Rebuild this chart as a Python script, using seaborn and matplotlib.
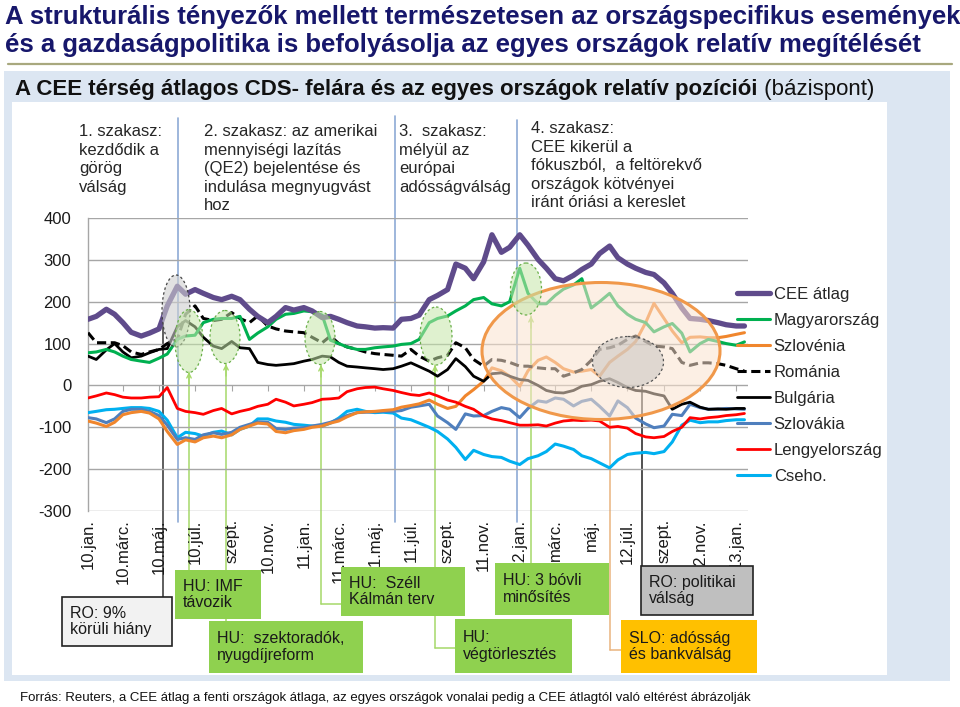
import numpy as np
import pandas as pd
import matplotlib
matplotlib.use("Agg")
import matplotlib.pyplot as plt
import matplotlib.dates as mdates
from matplotlib.patches import Ellipse, Rectangle
import seaborn as sns

sns.set_style("white")
plt.rcParams["font.family"] = ["Liberation Sans", "DejaVu Sans"]

# ---- data (bp), semi-monthly readings from Jan 2010 to mid-Jan 2013 ----
cee_atlag = [158, 165, 182, 170, 150, 127, 118, 125, 135, 190,
             237, 218, 229, 220, 210, 205, 213, 205, 182, 165,
             150, 165, 186, 180, 186, 178, 162, 165, 158, 150,
             142, 140, 137, 138, 137, 158, 160, 168, 205, 215,
             229, 290, 280, 255, 295, 360, 318, 330, 360, 335,
             301, 280, 255, 250, 263, 277, 290, 315, 333, 305,
             290, 280, 270, 265, 245, 220, 185, 160, 158, 155,
             150, 145, 142, 142]
magyarorszag = [78, 80, 86, 80, 70, 62, 58, 55, 65, 75,
                110, 118, 120, 150, 158, 160, 160, 165, 110, 125,
                140, 158, 170, 172, 178, 176, 168, 108, 100, 92,
                86, 86, 90, 92, 94, 98, 100, 110, 150, 160,
                166, 178, 190, 205, 210, 195, 190, 200, 280, 220,
                195, 195, 215, 230, 240, 255, 185, 200, 220, 190,
                170, 158, 150, 128, 140, 148, 125, 80, 100, 110,
                105, 100, 96, 104]
szlovenia = [-85, -90, -98, -88, -70, -65, -62, -66, -80, -110,
             -141, -130, -135, -125, -121, -125, -118, -105, -97, -90,
             -92, -110, -113, -108, -105, -100, -97, -90, -85, -75,
             -65, -63, -62, -60, -58, -52, -48, -44, -35, -45,
             -55, -50, -25, -10, 10, 42, 35, 22, -2, 35,
             60, 68, 55, 40, 32, 34, 38, 22, 55, 70,
             86, 105, 150, 196, 160, 130, 102, 115, 116, 114,
             114, 117, 122, 126]
romania = [126, 102, 102, 102, 95, 80, 74, 80, 86, 100,
           110, 170, 190, 160, 155, 158, 174, 160, 150, 166,
           142, 135, 130, 128, 126, 115, 102, 118, 100, 92,
           86, 80, 76, 74, 72, 70, 86, 70, 58, 66,
           72, 102, 90, 62, 46, 62, 60, 55, 46, 46,
           42, 40, 40, 22, 30, 38, 60, 86, 90, 96,
           110, 118, 105, 94, 92, 88, 55, 48, 54, 54,
           52, 48, 40, 34]
bulgaria = [70, 62, 85, 100, 80, 66, 70, 78, 86, 88,
            140, 155, 140, 115, 94, 88, 105, 90, 88, 55,
            50, 48, 50, 52, 58, 62, 70, 68, 55, 46,
            44, 42, 40, 38, 40, 46, 54, 45, 34, 22,
            38, 64, 45, 22, 10, 28, 30, 22, 14, 12,
            0, -12, -17, -18, -12, -2, 2, 10, 16, 7,
            -5, -12, -14, -20, -25, -57, -45, -40, -52, -57,
            -56, -57, -55, -55]
szlovakia = [-77, -80, -89, -80, -62, -57, -57, -62, -72, -95,
             -129, -125, -129, -118, -113, -117, -112, -100, -93, -87,
             -88, -103, -105, -102, -101, -97, -93, -88, -81, -72,
             -65, -64, -63, -62, -62, -60, -52, -49, -45, -73,
             -89, -105, -68, -73, -72, -62, -53, -57, -77, -55,
             -37, -40, -30, -33, -49, -38, -33, -50, -73, -37,
             -53, -78, -92, -101, -97, -69, -72, -45, -53, -57,
             -57, -55, -56, -57]
lengyelorszag = [-30, -25, -18, -22, -28, -30, -30, -28, -27, -5,
                 -55, -62, -65, -69, -60, -55, -68, -62, -57, -50,
                 -45, -33, -40, -49, -45, -41, -33, -32, -30, -15,
                 -8, -5, -4, -8, -12, -17, -22, -24, -18, -25,
                 -35, -40, -50, -57, -73, -80, -84, -89, -95, -95,
                 -94, -97, -90, -85, -83, -84, -83, -85, -100, -98,
                 -102, -115, -123, -125, -122, -110, -100, -77, -80, -77,
                 -75, -72, -70, -67]
cseho = [-65, -62, -58, -57, -55, -53, -53, -55, -62, -83,
         -125, -112, -115, -121, -112, -109, -118, -105, -97, -80,
         -80, -85, -88, -93, -95, -97, -97, -90, -78, -62,
         -57, -62, -65, -64, -66, -78, -82, -90, -100, -110,
         -128, -148, -177, -155, -165, -170, -172, -181, -189, -175,
         -168, -158, -140, -145, -153, -168, -175, -185, -197, -178,
         -165, -162, -160, -163, -158, -135, -95, -83, -89, -87,
         -87, -84, -82, -82]

series_names = ["CEE átlag", "Magyarország", "Szlovénia", "Románia",
                "Bulgária", "Szlovákia", "Lengyelország", "Cseho."]
series_values = [cee_atlag, magyarorszag, szlovenia, romania,
                 bulgaria, szlovakia, lengyelorszag, cseho]

tick_labels = ["10.jan.", "10.márc.", "10.máj.", "10.júl.", "szept.", "10.nov.",
               "11.jan.", "11.márc.", "11.máj.", "11.júl.", "szept.", "11.nov.",
               "12.jan.", "márc.", "máj.", "12.júl.", "szept.", "12.nov.",
               "13.jan."]
y_ticks = [-300, -200, -100, 0, 100, 200, 300, 400]

# ---- styles ----
styles = {
    "CEE átlag":     dict(color="#5f4b8b", lw=3.8, ls="-", z=9),
    "Magyarország":  dict(color="#00b050", lw=2.2, ls="-", z=8),
    "Szlovénia":     dict(color="#f0862d", lw=2.2, ls="-", z=5),
    "Románia":       dict(color="#000000", lw=2.2, ls=(0, (3, 1.5)), z=7),
    "Bulgária":      dict(color="#000000", lw=2.0, ls="-", z=6),
    "Szlovákia":     dict(color="#4f7fbd", lw=2.2, ls="-", z=4),
    "Lengyelország": dict(color="#ff0000", lw=2.0, ls="-", z=5),
    "Cseho.":        dict(color="#00b0f0", lw=2.2, ls="-", z=3),
}

W, H = 960, 707
fig = plt.figure(figsize=(9.6, 7.07), dpi=100)

# background decoration axes (pixel coordinates)
bg = fig.add_axes([0, 0, 1, 1], zorder=0)
bg.set_xlim(0, W); bg.set_ylim(H, 0); bg.axis("off")
bg.add_patch(Rectangle((4, 71), 946, 610, color="#dce6f2", lw=0))
bg.add_patch(Rectangle((12, 102), 875, 573, color="white", lw=0))
bg.plot([8, 952], [64, 64], color="#a8a87e", lw=1.6)

title_col = "#17176b"
bg.text(5, 17, "A strukturális tényezők mellett természetesen az országspecifikus események",
        fontsize=18.5, weight="bold", color=title_col, va="center", ha="left")
bg.text(5, 45, "és a gazdaságpolitika is befolyásolja az egyes országok relatív megítélését",
        fontsize=18.5, weight="bold", color=title_col, va="center", ha="left")
sub = bg.text(15, 90, "A CEE térség átlagos CDS- felára és az egyes országok relatív pozíciói",
              fontsize=16, weight="bold", color="#111111", va="center", ha="left")
bg.annotate(" (bázispont)", xy=(1, 0.5), xycoords=sub, va="center", ha="left",
            fontsize=16, color="#111111")
bg.text(20, 698, "Forrás: Reuters, a CEE átlag a fenti országok átlaga, az egyes országok vonalai "
        "pedig a CEE átlagtól való eltérést ábrázolják", fontsize=9.5, color="#111111",
        va="center", ha="left")

# phase separators
phase_col = "#8eaad6"
for x, y0 in [(178, 118), (395, 116), (517, 120)]:
    bg.plot([x, x], [y0, 522], color=phase_col, lw=1.2)

# event connectors
gcol = "#a6d96a"
for x, y0, y1, x2 in [(189, 372, 570, None), (226, 364, 621, None), (321, 365, 604, 341),
                      (435, 365, 648, 455), (531, 316, 563, None)]:
    bg.plot([x, x], [y0, y1], color=gcol, lw=1.1)
    if x2 is not None:
        bg.plot([x, x2], [y1, y1], color=gcol, lw=1.1)
    bg.annotate("", xy=(x, y0), xytext=(x, y0 + 12),
                arrowprops=dict(arrowstyle="->", color=gcol, lw=1.0,
                                shrinkA=0, shrinkB=0, mutation_scale=8))
bg.plot([163, 163], [320, 597], color="#333333", lw=1.1)
bg.plot([642, 642], [387, 566], color="#222222", lw=1.1)
tan = "#e9b47f"
bg.plot([610, 610], [420, 650], color=tan, lw=1.1)
bg.plot([610, 621], [650, 650], color=tan, lw=1.1)

# phase texts
ptxt = dict(fontsize=12, color="#262626", va="top", ha="left", linespacing=1.3)
bg.text(79, 124, "1. szakasz:\nkezdődik a\ngörög\nválság", **ptxt)
bg.text(204, 124, "2. szakasz: az amerikai\nmennyiségi lazítás\n(QE2) bejelentése és\n"
        "indulása megnyugvást\nhoz", **ptxt)
bg.text(399, 124, "3.  szakasz:\nmélyül az\neurópai\nadósságválság", **ptxt)
bg.text(531, 121, "4. szakasz:\nCEE kikerül a\nfókuszból,  a feltörekvő\n"
        "országok kötvényei\niránt óriási a kereslet", **ptxt)

# ---- chart axes ----
ax = fig.add_axes([88 / W, 1 - 511 / H, 660 / W, 293 / H], zorder=2)
ax.patch.set_alpha(0)

for name, vals in zip(series_names, series_values):
    st = styles[name]
    d = pd.DataFrame({"date": pd.date_range("2010-01-01", periods=len(vals), freq="SMS"),
                      "bp": vals})
    sns.lineplot(data=d, x="date", y="bp", ax=ax, color=st["color"], lw=st["lw"],
                 linestyle=st["ls"], label=name, zorder=st["z"])

ax.set_xlim(pd.Timestamp("2010-01-01"), pd.Timestamp("2013-01-21"))
ax.set_ylim(-300, 400)
ax.set_yticks(y_ticks)
ax.set_yticklabels([str(v) for v in y_ticks], fontsize=12, color="#1a1a1a")
tick_dates = pd.date_range("2010-01-01", periods=len(tick_labels), freq="2MS")
ax.set_xticks(tick_dates)
ax.set_xticklabels(tick_labels, rotation=90, fontsize=12, color="#1a1a1a",
                   va="top", ha="center")
ax.tick_params(axis="both", length=0)
ax.tick_params(axis="x", pad=6)
ax.tick_params(axis="y", pad=12)
ax.set_xlabel(""); ax.set_ylabel("")
ax.yaxis.grid(True, color="#a6a6a6", lw=1.0)
ax.set_axisbelow(True)
for s in ["top", "right", "bottom"]:
    ax.spines[s].set_visible(False)
ax.spines["left"].set_color("#a6a6a6")
ax.spines["left"].set_linewidth(1.0)

sec = ax.secondary_xaxis(3 / 7)
sec.set_xticks(mdates.date2num(tick_dates))
sec.tick_params(axis="x", length=4, color="#a6a6a6", labelbottom=False, direction="out")
sec.spines["bottom"].set_visible(False)

handles, labels = ax.get_legend_handles_labels()
order = [labels.index(n) for n in series_names]
leg = ax.legend([handles[i] for i in order], [labels[i] for i in order],
                loc="upper left", bbox_to_anchor=(737 / W, 1 - 287 / H),
                bbox_transform=fig.transFigure, frameon=False, fontsize=12,
                handlelength=2.0, handletextpad=0.2, labelspacing=0.66,
                borderpad=0, borderaxespad=0)
leg.set_zorder(20)

# ---- overlay (ellipses and boxes) ----
ov = fig.add_axes([0, 0, 1, 1], zorder=5)
ov.set_xlim(0, W); ov.set_ylim(H, 0); ov.axis("off")
ov.patch.set_alpha(0)

ov.add_patch(Ellipse((601, 351), 238, 137, facecolor="#fbe3cf", alpha=0.55, lw=0))
ov.add_patch(Ellipse((601, 351), 238, 137, facecolor="none", edgecolor="#f0984a", lw=2.2))
ov.add_patch(Ellipse((628, 362), 71, 51, facecolor="#c8c4c0", alpha=0.55, lw=0))
ov.add_patch(Ellipse((628, 362), 71, 51, facecolor="none", edgecolor="#555555",
                     lw=0.9, ls=(0, (2, 2))))
ov.add_patch(Ellipse((176, 311), 28, 72, facecolor="#d0d0d0", alpha=0.6, lw=0))
ov.add_patch(Ellipse((176, 311), 28, 72, facecolor="none", edgecolor="#444444",
                     lw=0.9, ls=(0, (2, 2))))
for cx, cy, w, h in [(189, 341, 28, 63), (225, 337, 30, 53), (320, 338, 30, 53),
                     (436, 336, 32, 58), (526, 289, 31, 52)]:
    ov.add_patch(Ellipse((cx, cy), w, h, facecolor="#c5e6a8", alpha=0.55, lw=0))
    ov.add_patch(Ellipse((cx, cy), w, h, facecolor="none", edgecolor="#6aaf4a",
                         lw=0.9, ls=(0, (2, 2))))

green_box = "#8fd14f"
boxes = [
    (62, 597, 110, 49, "#f2f2f2", "#222222", "RO: 9%\nkörüli hiány"),
    (175, 570, 86, 49, green_box, None, "HU: IMF\ntávozik"),
    (209, 621, 154, 52, green_box, None, "HU:  szektoradók,\nnyugdíjreform"),
    (341, 567, 124, 49, green_box, None, "HU:  Széll\nKálmán terv"),
    (455, 619, 117, 54, green_box, None, "HU:\nvégtörlesztés"),
    (495, 563, 114, 52, green_box, None, "HU: 3 bóvli\nminősítés"),
    (641, 566, 112, 49, "#bfbfbf", "#222222", "RO: politikai\nválság"),
    (621, 620, 136, 53, "#ffc000", None, "SLO: adósság\nés bankválság"),
]
for x, y, w, h, fc, ec, txt in boxes:
    ov.add_patch(Rectangle((x, y), w, h, facecolor=fc,
                           edgecolor=ec if ec else fc, lw=1.2 if ec else 0))
    ov.text(x + 8, y + h / 2, txt, fontsize=11.5, color="#1a1a1a", va="center",
            ha="left", linespacing=1.15)

fig.savefig("out.png", dpi=100)
